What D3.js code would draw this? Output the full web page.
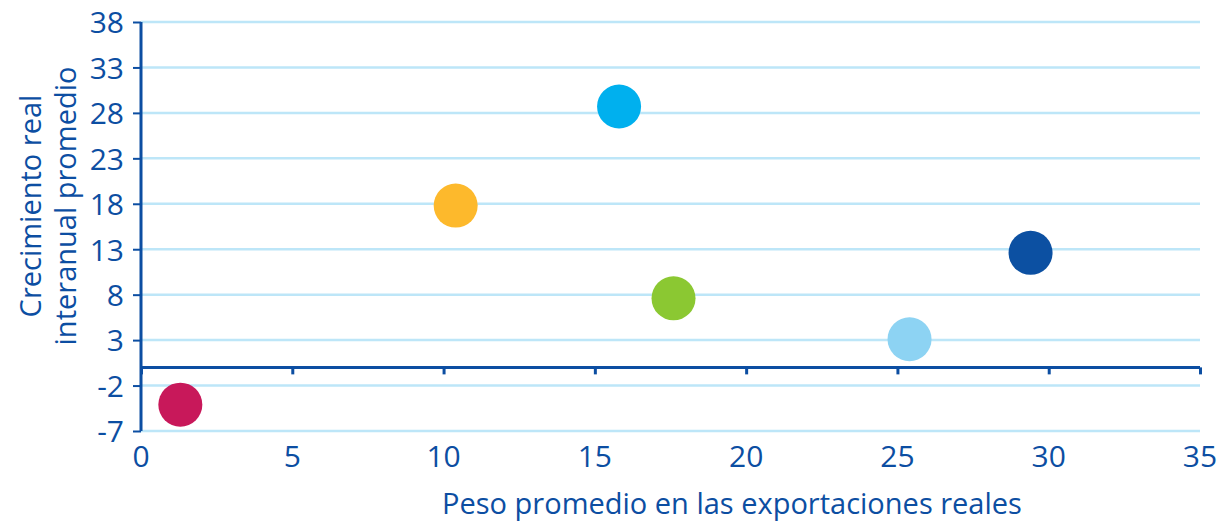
<!DOCTYPE html>
<html>
<head>
<meta charset="utf-8">
<script src="https://cdn.jsdelivr.net/npm/d3@7"></script>
<style>
  body { margin: 0; background: #fff; }
  svg text { font-family: "Open Sans", "Noto Sans", sans-serif; fill: #0c4ea2; }
</style>
</head>
<body>
<svg id="chart" width="1228" height="522"></svg>
<script>
// values
const pesos = [1.3, 10.4, 15.8, 17.6, 25.4, 29.4];
const crecimientos = [-4.1, 17.8, 28.7, 7.6, 3.1, 12.6];
const colores = ["#c8185a", "#fdb92c", "#00b0ee", "#8bc832", "#8dd3f3", "#0c50a2"];
const xTicks = [0, 5, 10, 15, 20, 25, 30, 35];
const yTicks = [-7, -2, 3, 8, 13, 18, 23, 28, 33, 38];

const blue = "#0c4ea2";
const grid = "#bde6f8";

const svg = d3.select("#chart");
const x = d3.scaleLinear().domain([0, 35]).range([141, 1200]);
const y = d3.scaleLinear().domain([-7, 38]).range([431, 22]);

// gridlines
svg.append("g")
  .selectAll("line")
  .data(yTicks)
  .join("line")
  .attr("x1", x(0))
  .attr("x2", x(35))
  .attr("y1", d => y(d))
  .attr("y2", d => y(d))
  .attr("stroke", grid)
  .attr("stroke-width", 2.5);

// y axis
const yAxis = svg.append("g")
  .attr("transform", `translate(${x(0)},0)`)
  .call(d3.axisLeft(y).tickValues(yTicks).tickSize(8).tickPadding(9).tickFormat(d => String(d)));
yAxis.select(".domain").attr("stroke", blue).attr("stroke-width", 3).attr("d", `M0,${y(-7)}V${y(38)}`);
yAxis.selectAll(".tick line").attr("stroke", blue).attr("stroke-width", 2);
yAxis.selectAll(".tick text")
  .style("font-size", "30px")
  .attr("fill", blue)
  .attr("dy", "0.36em");

// x axis at zero
const xAxis = svg.append("g")
  .attr("transform", `translate(0,${y(0)})`)
  .call(d3.axisBottom(x).tickValues(xTicks).tickSize(7).tickFormat(""));
xAxis.select(".domain").attr("stroke", blue).attr("stroke-width", 3).attr("d", `M${x(0)},0H${x(35)}`);
xAxis.selectAll(".tick line").attr("stroke", blue).attr("stroke-width", 3);

// x labels under the plot
svg.append("g")
  .selectAll("text")
  .data(xTicks)
  .join("text")
  .attr("x", d => x(d))
  .attr("y", 467)
  .attr("text-anchor", "middle")
  .style("font-size", "30px")
  .text(d => d);

// points
svg.append("g")
  .selectAll("circle")
  .data(pesos.map((p, i) => ({p, c: crecimientos[i], col: colores[i]})))
  .join("circle")
  .attr("cx", d => x(d.p))
  .attr("cy", d => y(d.c))
  .attr("r", 22)
  .attr("fill", d => d.col);

// axis titles
svg.append("text")
  .attr("x", 732)
  .attr("y", 514)
  .attr("text-anchor", "middle")
  .style("font-size", "29px")
  .text("Peso promedio en las exportaciones reales");

const yt = svg.append("text")
  .attr("transform", "translate(41,206) rotate(-90)")
  .attr("text-anchor", "middle")
  .style("font-size", "29px");
yt.append("tspan").attr("x", 0).attr("dy", 0).text("Crecimiento real");
yt.append("tspan").attr("x", 0).attr("dy", 35).text("interanual promedio");
</script>
</body>
</html>
